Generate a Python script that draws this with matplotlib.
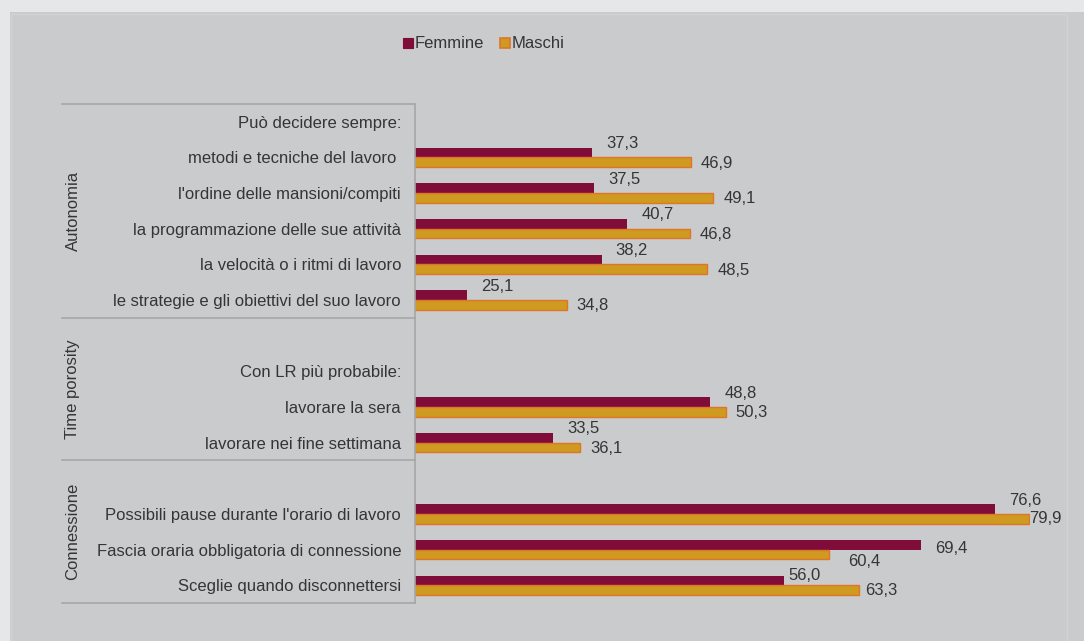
import numpy as np
import matplotlib
matplotlib.use("Agg")
import matplotlib.pyplot as plt
import matplotlib.transforms as mtransforms
from matplotlib.patches import Rectangle
from matplotlib.lines import Line2D

# data (empty label = blank row, header rows have no bars)
categories = [
    "Può decidere sempre:",
    "metodi e tecniche del lavoro ",
    "l'ordine delle mansioni/compiti",
    "la programmazione delle sue attività",
    "la velocità o i ritmi di lavoro",
    "le strategie e gli obiettivi del suo lavoro",
    "",
    "Con LR più probabile:",
    "lavorare la sera",
    "lavorare nei fine settimana",
    "",
    "Possibili pause durante l'orario di lavoro",
    "Fascia oraria obbligatoria di connessione",
    "Sceglie quando disconnettersi",
]
femmine = [None, 37.3, 37.5, 40.7, 38.2, 25.1, None, None, 48.8, 33.5, None, 76.6, 69.4, 56.0]
maschi = [None, 46.9, 49.1, 46.8, 48.5, 34.8, None, None, 50.3, 36.1, None, 79.9, 60.4, 63.3]
group_names = ["Autonomia", "Time porosity", "Connessione"]
group_sizes = [6, 4, 4]

# colours
col_f = "#800c3a"
col_m = "#cf9a20"
col_m_edge = "#e0742a"
txt = "#353535"
line_col = "#a6a6a6"

# label offsets in pixels (default, plus a few moved like in the original)
off_f = {12: (14, -4), 13: (4, 5)}
off_m = {11: (0, 0), 12: (19, -7), 13: (6, -1)}

plt.rcParams["font.family"] = ["Liberation Sans", "DejaVu Sans"]
plt.rcParams["font.size"] = 12

W, H = 1084, 641
fig = plt.figure(figsize=(W / 100, H / 100), dpi=100, facecolor="#e6e7e9")
# inner grey panel + faint chart-area border
fig.patches.append(Rectangle((10 / W, 0), 1, 1 - 12 / H, transform=fig.transFigure,
                             facecolor="#cacbcd", edgecolor="none", zorder=-10))
fig.patches.append(Rectangle((11 / W, -0.01), (1067 - 11) / W, 1 - 14 / H + 0.01,
                             transform=fig.transFigure, facecolor="none",
                             edgecolor="#d2d3d5", lw=1, zorder=-9))

ax_left, ax_right, ax_top, ax_bot = 415, 1030, 104, 603
ax = fig.add_axes([ax_left / W, 1 - ax_bot / H, (ax_right - ax_left) / W, (ax_bot - ax_top) / H])
ax.set_facecolor("none")
ax.set_zorder(5)

n = len(categories)
rows = np.arange(n)
bh = 0.27

for i in rows:
    if femmine[i] is not None:
        ax.barh(i - bh / 2, femmine[i], height=bh, color=col_f)
        ax.annotate(f"{femmine[i]:.1f}".replace(".", ","), (femmine[i], i - bh / 2),
                    xytext=off_f.get(i, (14, 9)), textcoords="offset pixels", ha="left", va="center",
                    color=txt, fontsize=12, annotation_clip=False)
    if maschi[i] is not None:
        ax.barh(i + bh / 2, maschi[i], height=bh, color=col_m, edgecolor=col_m_edge, linewidth=1)
        ax.annotate(f"{maschi[i]:.1f}".replace(".", ","), (maschi[i], i + bh / 2),
                    xytext=off_m.get(i, (10, -1)), textcoords="offset pixels", ha="left", va="center",
                    color=txt, fontsize=12, annotation_clip=False)

ax.set_xlim(20, 80)
ax.set_ylim(n - 0.5, -0.5)
ax.set_yticks(rows)
ax.set_yticklabels(categories, color=txt, fontsize=12)
ax.tick_params(axis="y", length=0, pad=10)
ax.set_xticks([])
for s in ["top", "right", "bottom"]:
    ax.spines[s].set_visible(False)
ax.spines["left"].set_color(line_col)
ax.spines["left"].set_linewidth(1.2)

# group separators and group labels
trans = mtransforms.blended_transform_factory(ax.transAxes, ax.transData)
x0 = (62 - ax_left) / (ax_right - ax_left)
xg = (73 - ax_left) / (ax_right - ax_left)
start = -0.5
ax.plot([x0, 0], [start, start], transform=trans, color=line_col, lw=1.2, clip_on=False)
for name, size in zip(group_names, group_sizes):
    end = start + size
    ax.plot([x0, 0], [end, end], transform=trans, color=line_col, lw=1.2, clip_on=False)
    ax.text(xg, (start + end) / 2, name, transform=trans, rotation=90,
            ha="center", va="center", color=txt, fontsize=12)
    start = end

# legend
handles = [
    Line2D([], [], marker="s", ls="none", markersize=7, markerfacecolor=col_f,
           markeredgecolor=col_f, markeredgewidth=0.8),
    Line2D([], [], marker="s", ls="none", markersize=7, markerfacecolor=col_m,
           markeredgecolor=col_m_edge, markeredgewidth=1.2),
]
fig.legend(handles, ["Femmine", "Maschi"], loc="center", bbox_to_anchor=(482 / W, 1 - 44 / H),
           ncol=2, frameon=False, handletextpad=-0.1, columnspacing=0.8, fontsize=12,
           labelcolor=txt, handlelength=1.0)

fig.savefig("out.png", dpi=100, facecolor=fig.get_facecolor())
